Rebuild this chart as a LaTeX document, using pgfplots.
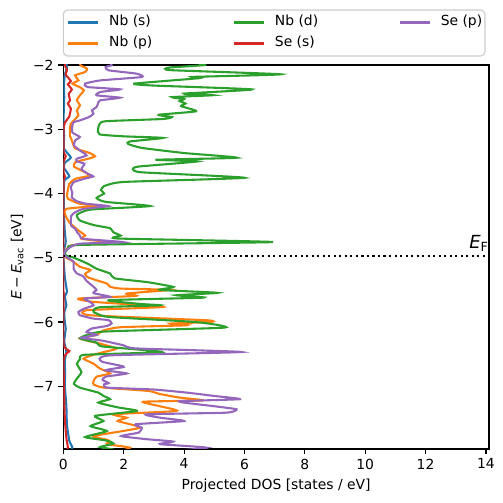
\documentclass[border=0pt]{standalone}
\usepackage{fontspec}
\setmainfont{DejaVu Sans}
\usepackage{pgfplots}
\pgfplotsset{compat=1.18}
\definecolor{c0}{HTML}{1F77B4}
\definecolor{c1}{HTML}{FF7F0E}
\definecolor{c2}{HTML}{2CA02C}
\definecolor{c3}{HTML}{D62728}
\definecolor{c4}{HTML}{9467BD}
\begin{document}
\begin{tikzpicture}
\useasboundingbox (-45.6pt,-38.2pt) rectangle (316.6pt,323.3pt);
\begin{axis}[
  at={(0pt,0pt)}, anchor=south west,
  scale only axis, width=306.5pt, height=276.5pt,
  xmin=0, xmax=14.1, ymin=-7.975, ymax=-2,
  xtick={0,2,4,6,8,10,12,14},
  xticklabels={0,2,4,6,8,10,12,14},
  ytick={-7,-6,-5,-4,-3,-2},
  yticklabels={−7,−6,−5,−4,−3,−2},
  tick align=outside, tick pos=left,
  major tick length=3.5pt,
  every tick/.style={black, line width=0.8pt},
  axis line style={line width=0.8pt},
  xlabel={Projected DOS [states / eV]},
  ylabel={\textit{E}\hspace{0.2em}−\hspace{0.2em}\textit{E}\textsubscript{vac} [eV]},
  legend columns=3,
  legend cell align=left,
  legend image code/.code={\draw[#1] (0pt,0pt) -- (21.6pt,0pt);},
  legend style={at={(axis description cs:0,1)}, anchor=south west, yshift=6.5pt,
    draw=black!20, line width=0.8pt, rounded corners=3pt,
    font=\fontsize{10}{12}\selectfont,
    inner xsep=2.7pt, inner ysep=4pt, outer sep=0pt,
    nodes={inner xsep=0pt, inner ysep=0pt, text height=7.5pt, text depth=2.5pt},
    row sep=5.1pt,
    /tikz/every odd column/.append style={column sep=7.2pt}},
  every axis plot/.append style={line width=1.5pt},
  dos/.style={smooth, tension=0.3, forget plot},
]
\addlegendimage{c0, line width=1.5pt}
\addlegendentry{\makebox[89.1pt][l]{Nb (s)}}
\addlegendimage{c2, line width=1.5pt}
\addlegendentry{\makebox[89.1pt][l]{Nb (d)}}
\addlegendimage{c4, line width=1.5pt}
\addlegendentry{\makebox[29.1pt][l]{Se (p)}}
\addlegendimage{c1, line width=1.5pt}
\addlegendentry{Nb (p)}
\addlegendimage{c3, line width=1.5pt}
\addlegendentry{Se (s)}

% Nb (s)
\addplot[c0, dos] coordinates {
(0.10,-1.95) (0.12,-2.05) (0.05,-2.15) (0.02,-2.3) (0.03,-2.5) (0.01,-2.8) (0.02,-3.0) (0.03,-3.1)
(0.02,-3.3) (0.25,-3.44) (0.05,-3.52) (0.02,-3.6) (0.20,-3.73) (0.03,-3.8) (0.02,-4.0) (0.02,-4.3)
(0.05,-4.6) (0.08,-4.75) (0.01,-4.9) (0.00,-4.97) (0.02,-5.1) (0.05,-5.3) (0.12,-5.53) (0.05,-5.6)
(0.10,-5.74) (0.03,-5.85) (0.05,-6.0) (0.08,-6.1) (0.03,-6.3) (0.10,-6.45) (0.05,-6.6) (0.06,-6.8)
(0.05,-7.0) (0.10,-7.3) (0.12,-7.6) (0.20,-7.85) (0.30,-7.95) (0.25,-8.02)
};
% Nb (p)
\addplot[c1, dos] coordinates {
(0.55,-1.95) (0.57,-2.005) (0.79,-2.057) (0.72,-2.11) (0.39,-2.161) (0.50,-2.24) (0.30,-2.29)
(0.54,-2.343) (0.68,-2.395) (0.55,-2.472) (0.45,-2.55) (0.55,-2.628) (0.45,-2.706) (0.50,-2.784)
(0.35,-2.862) (0.25,-2.914) (0.22,-2.99) (0.22,-3.1) (0.28,-3.17) (0.34,-3.25) (0.40,-3.3)
(0.88,-3.371) (1.05,-3.423) (0.82,-3.459) (0.40,-3.511) (0.35,-3.58) (0.60,-3.641) (0.88,-3.719)
(0.40,-3.771) (0.20,-3.849) (0.13,-4.0) (0.15,-4.08) (0.55,-4.16) (1.21,-4.186) (0.10,-4.238)
(0.05,-4.316) (0.20,-4.45) (0.50,-4.575) (0.72,-4.653) (0.60,-4.705) (1.44,-4.757) (0.25,-4.809)
(0.05,-4.913) (0.03,-4.96) (0.10,-5.0) (0.30,-5.05) (0.55,-5.14) (0.90,-5.19) (0.72,-5.25)
(0.80,-5.3) (1.10,-5.35) (1.44,-5.40) (1.55,-5.45) (1.90,-5.479) (3.50,-5.50) (2.10,-5.556)
(2.40,-5.593) (0.50,-5.634) (1.00,-5.686) (3.30,-5.764) (0.77,-5.816) (0.88,-5.894) (4.75,-5.972)
(4.86,-6.0) (3.55,-6.024) (4.10,-6.05) (1.90,-6.08) (1.33,-6.13) (1.10,-6.2) (0.55,-6.257)
(1.21,-6.335) (1.77,-6.413) (1.40,-6.46) (1.00,-6.51) (0.67,-6.57) (1.00,-6.647) (1.20,-6.72)
(1.55,-6.8) (1.10,-6.85) (1.00,-6.92) (1.00,-6.97) (1.33,-7.02) (2.82,-7.072) (3.20,-7.12)
(3.86,-7.176) (4.63,-7.22) (2.65,-7.24) (3.20,-7.31) (3.75,-7.384) (1.66,-7.435) (2.10,-7.488)
(1.80,-7.54) (2.54,-7.644) (1.00,-7.774) (1.44,-7.83) (1.55,-7.86) (1.44,-7.9) (2.21,-7.955)
(1.80,-8.02)
};
% Nb (d)
\addplot[c2, dos] coordinates {
(4.30,-1.95) (4.70,-2.0) (3.50,-2.04) (3.55,-2.08) (7.20,-2.145) (4.30,-2.185) (4.50,-2.205)
(2.35,-2.29) (3.00,-2.32) (6.25,-2.38) (4.00,-2.445) (4.95,-2.47) (3.60,-2.5) (4.00,-2.53)
(3.85,-2.56) (4.05,-2.6) (3.90,-2.64) (4.40,-2.72) (3.15,-2.775) (3.60,-2.81) (3.30,-2.84)
(1.40,-2.875) (1.20,-2.92) (1.15,-3.0) (1.20,-3.08) (2.00,-3.11) (3.30,-3.135) (2.20,-3.19)
(2.15,-3.23) (2.60,-3.29) (4.00,-3.37) (5.75,-3.443) (3.05,-3.475) (4.45,-3.5) (2.50,-3.58)
(2.30,-3.62) (2.60,-3.67) (6.00,-3.755) (2.00,-3.82) (1.35,-3.885) (1.25,-3.95) (1.35,-4.0)
(1.10,-4.07) (1.40,-4.13) (2.87,-4.195) (0.90,-4.25) (0.45,-4.33) (0.55,-4.42) (1.00,-4.49)
(1.55,-4.54) (1.65,-4.6) (1.90,-4.655) (1.80,-4.7) (6.95,-4.755) (0.55,-4.80) (0.15,-4.86)
(0.05,-4.93) (0.10,-4.97) (0.30,-4.99) (0.80,-5.09) (1.10,-5.17) (1.55,-5.245) (1.70,-5.32)
(2.80,-5.38) (3.65,-5.455) (3.20,-5.5) (5.10,-5.545) (3.75,-5.583) (4.65,-5.62) (1.50,-5.66)
(2.60,-5.72) (3.20,-5.74) (1.20,-5.77) (1.00,-5.84) (1.50,-5.92) (4.40,-6.0) (5.35,-6.086)
(1.30,-6.15) (0.55,-6.25) (1.10,-6.32) (1.30,-6.38) (3.27,-6.466) (0.70,-6.51) (0.55,-6.58)
(0.45,-6.65) (0.60,-6.78) (0.45,-6.88) (0.35,-6.96) (0.54,-7.02) (1.16,-7.098) (1.33,-7.15)
(1.55,-7.2) (1.16,-7.254) (1.83,-7.33) (2.44,-7.384) (1.05,-7.46) (1.33,-7.54) (0.90,-7.62)
(1.44,-7.696) (0.72,-7.79) (1.39,-7.84) (1.66,-7.89) (1.22,-7.945) (1.60,-7.98) (1.30,-8.02)
};
% Se (s)
\addplot[c3, dos] coordinates {
(0.10,-1.95) (0.05,-2.0) (0.12,-2.08) (0.08,-2.15) (0.25,-2.25) (0.15,-2.3) (0.28,-2.38)
(0.18,-2.45) (0.22,-2.55) (0.15,-2.6) (0.25,-2.68) (0.22,-2.75) (0.20,-2.8) (0.05,-2.9)
(0.01,-3.0) (0.01,-3.35) (0.08,-3.42) (0.01,-3.5) (0.01,-3.68) (0.06,-3.74) (0.01,-3.8)
(0.00,-4.5) (0.00,-5.5) (0.04,-5.55) (0.01,-5.6) (0.01,-6.35) (0.20,-6.45) (0.15,-6.47)
(0.05,-6.52) (0.01,-6.6) (0.02,-7.0) (0.05,-7.5) (0.10,-7.8) (0.15,-7.95) (0.10,-8.02)
};
% Se (p)
\addplot[c4, dos] coordinates {
(1.55,-1.95) (1.60,-2.005) (1.40,-2.031) (1.50,-2.083) (2.43,-2.135) (2.60,-2.187) (1.22,-2.24)
(0.72,-2.29) (0.80,-2.343) (1.88,-2.379) (1.22,-2.42) (1.10,-2.472) (1.88,-2.509) (1.22,-2.55)
(1.15,-2.60) (1.10,-2.654) (0.95,-2.706) (1.00,-2.758) (0.85,-2.81) (0.55,-2.862) (0.35,-2.888)
(0.30,-2.94) (0.30,-3.05) (0.55,-3.12) (0.40,-3.17) (0.35,-3.25) (0.55,-3.33) (0.77,-3.407)
(0.44,-3.459) (0.45,-3.5) (0.70,-3.537) (0.60,-3.62) (0.80,-3.69) (0.99,-3.734) (0.70,-3.77)
(0.35,-3.822) (0.25,-3.9) (0.30,-4.0) (0.28,-4.06) (0.45,-4.12) (0.77,-4.16) (1.49,-4.196)
(0.66,-4.24) (0.40,-4.29) (0.26,-4.35) (0.26,-4.50) (0.40,-4.55) (0.45,-4.6) (0.55,-4.653)
(0.66,-4.705) (1.99,-4.757) (0.55,-4.78) (0.25,-4.83) (0.05,-4.9) (0.03,-4.96) (0.17,-5.01)
(0.34,-5.06) (0.34,-5.17) (0.44,-5.24) (0.66,-5.29) (0.77,-5.36) (1.00,-5.45) (1.10,-5.50)
(1.00,-5.55) (1.55,-5.608) (0.70,-5.634) (0.88,-5.686) (1.00,-5.74) (0.70,-5.79) (0.50,-5.842)
(0.55,-5.894) (0.99,-5.946) (1.50,-5.97) (1.60,-6.02) (1.45,-6.06) (0.95,-6.1) (0.77,-6.154)
(1.10,-6.2) (0.60,-6.245) (1.30,-6.29) (1.99,-6.361) (2.40,-6.41) (5.90,-6.466) (1.60,-6.517)
(1.20,-6.57) (1.30,-6.62) (1.90,-6.68) (2.00,-6.70) (1.40,-6.75) (2.10,-6.8) (1.40,-6.85)
(1.30,-6.9) (1.50,-6.95) (1.35,-6.97) (1.45,-7.02) (3.00,-7.05) (4.09,-7.098) (5.00,-7.15)
(5.85,-7.2) (3.90,-7.23) (4.00,-7.254) (5.00,-7.31) (5.74,-7.358) (5.40,-7.41) (2.76,-7.436)
(3.20,-7.488) (4.00,-7.54) (2.40,-7.59) (2.60,-7.644) (2.50,-7.72) (1.92,-7.774) (2.70,-7.82)
(3.64,-7.86) (3.20,-7.9) (4.75,-7.955) (3.30,-8.02)
};
% Fermi level
\addplot[black, line width=1.5pt, dash pattern=on 1.5pt off 2.475pt, forget plot] coordinates {(0,-4.975) (14.1,-4.975)};
\node[anchor=south east, inner sep=0pt, yshift=3pt, font=\fontsize{13}{15}\selectfont] at (axis cs:14.1,-4.975) {\textit{E}\textsubscript{F}};
\end{axis}
\end{tikzpicture}
\end{document}
